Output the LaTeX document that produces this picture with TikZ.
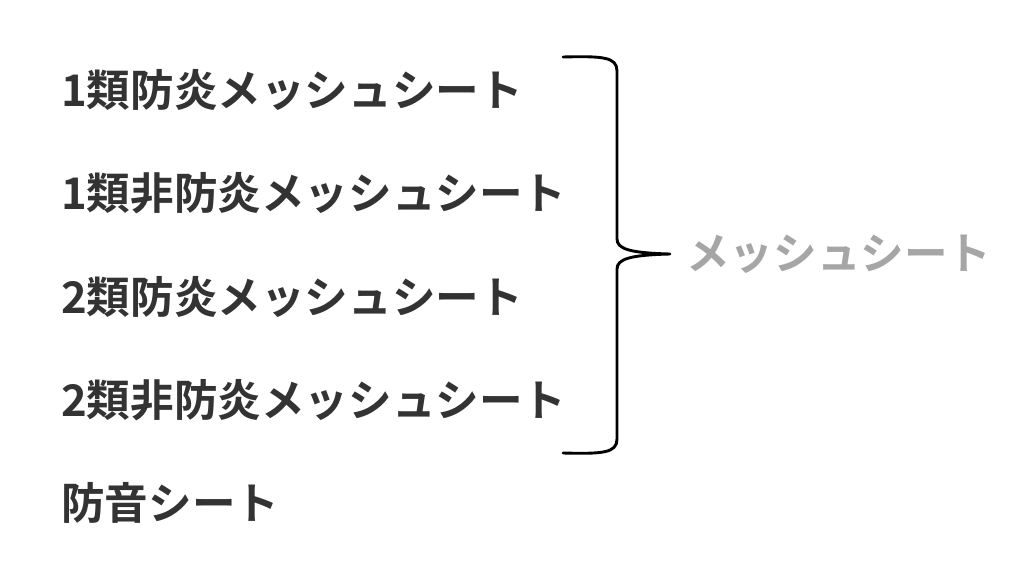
\documentclass[tikz,border=0pt]{standalone}
\usepackage{fontspec}
\newfontfamily\jp{Noto Sans CJK JP}[BoldFont={* Bold}]
\usepackage{tikz}
\usetikzlibrary{positioning, calc}
\definecolor{ink}{HTML}{333333}
\definecolor{pale}{HTML}{A6A6A6}
\tikzset{item/.style={anchor=west, inner sep=0pt, text=ink,
    font=\jp\bfseries\fontsize{43.6}{43.6}\selectfont}}
\tikzset{group/.style={item, text=pale}}
\tikzset{brace/.style={line width=2.9pt, line cap=round, line join=round}}

\begin{document}
\begin{tikzpicture}[x=1pt, y=-1pt]
      \useasboundingbox (0,0) rectangle (1024,564);
      \foreach \t [count=\i] in {1類防炎メッシュシート, 1類非防炎メッシュシート,
        2類防炎メッシュシート, 2類非防炎メッシュシート, 防音シート}
        \node[item] (l\i) at (61, {90+103.3*(\i-1)}) {\t};
      \coordinate (btop) at (563,57);
      \coordinate (bbot) at (563,453);
      \coordinate (btip) at (670,254);
      \draw[brace] (btop) .. controls +(40,-1) and +(0,-14) .. ++(54,14)
        -- ($(btip)+(-53,-15)$) .. controls +(0,10) and +(-40,-1) .. (btip)
        .. controls +(-40,1) and +(0,-10) .. ($(btip)+(-53,15)$)
        -- ($(bbot)+(54,-14)$) .. controls +(0,14) and +(40,1) .. (bbot);
      \node[group, right=16pt of btip] (mesh) {メッシュシート};
\end{tikzpicture}
\end{document}
